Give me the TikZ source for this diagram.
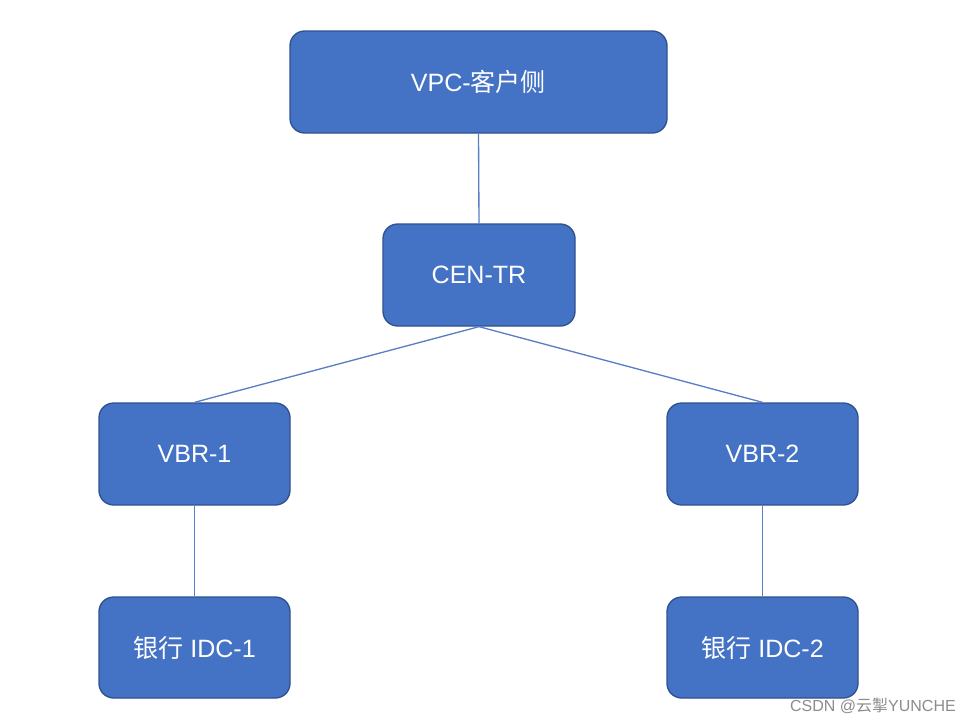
\documentclass[tikz,border=0pt]{standalone}
\usepackage{fontspec}
\setmainfont{Liberation Sans}
\newfontfamily\cjk{Noto Sans CJK SC}
\definecolor{boxfill}{HTML}{4472C4}
\definecolor{boxline}{HTML}{2F528F}
\definecolor{linkc}{HTML}{5B7FC4}
\definecolor{wmark}{HTML}{8C8C8C}
\begin{document}
\begin{tikzpicture}[x=0.75pt,y=-0.75pt,
  netbox/.style={draw=boxline,line width=1pt,fill=boxfill,rounded corners=11pt,
    text=white,font=\fontsize{18.8}{21}\selectfont,inner sep=0pt},
  link/.style={draw=linkc,line width=1pt}]
\useasboundingbox (0,0) rectangle (970,725);
\fill[white] (0,0) rectangle (970,725);
\node[netbox,minimum width=377*0.75pt,minimum height=102*0.75pt] (vpc) at (478.5,82) {VPC-{\cjk 客户侧}};
\node[netbox,minimum width=192*0.75pt,minimum height=102*0.75pt] (cen) at (479,275) {CEN-TR};
\node[netbox,minimum width=191*0.75pt,minimum height=102*0.75pt] (vbr1) at (194.5,454) {VBR-1};
\node[netbox,minimum width=191*0.75pt,minimum height=102*0.75pt] (vbr2) at (762.5,454) {VBR-2};
\node[netbox,minimum width=191*0.75pt,minimum height=101*0.75pt] (idc1) at (194.5,647.5) {{\cjk 银行} IDC-1};
\node[netbox,minimum width=191*0.75pt,minimum height=101*0.75pt] (idc2) at (762.5,647.5) {{\cjk 银行} IDC-2};
\draw[link] (vpc.south) -- (cen.north);
\draw[link] (cen.south) -- (vbr1.north);
\draw[link] (cen.south) -- (vbr2.north);
\draw[link] (vbr1.south) -- (idc1.north);
\draw[link] (vbr2.south) -- (idc2.north);
\node[text=wmark,font=\fontsize{12}{14}\selectfont,anchor=east,inner sep=0pt] (wm) at (956,706) {CSDN @{\cjk 云掣}YUNCHE};
\end{tikzpicture}
\end{document}
